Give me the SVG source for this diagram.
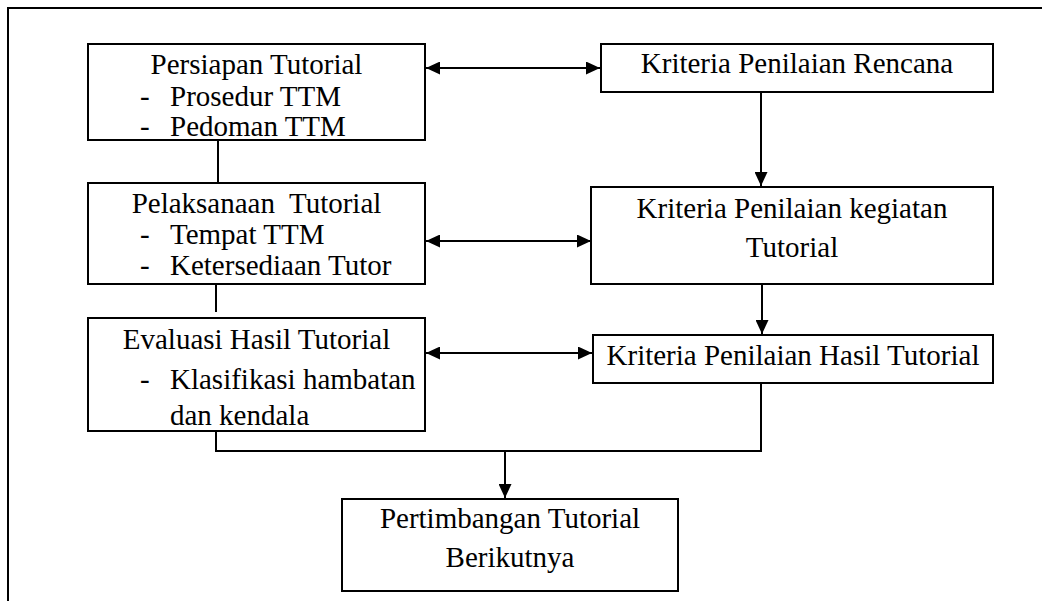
<svg xmlns="http://www.w3.org/2000/svg" width="1042" height="601" viewBox="0 0 1042 601">
<style>
.box{fill:#fff;stroke:#000;stroke-width:2}
.ln{fill:none;stroke:#000;stroke-width:2}
.t{font-family:"Liberation Serif","Times New Roman",serif;font-size:29px;fill:#000}
.c{text-anchor:middle}
</style>
<defs>
<marker id="ah" markerUnits="userSpaceOnUse" markerWidth="14" markerHeight="13" refX="14" refY="6.5" orient="auto-start-reverse">
<path d="M0,0 L14,6.5 L0,13 z" fill="#000"/>
</marker>
</defs>
<rect width="1042" height="601" fill="#fff"/>
<g id="frame">
<path class="ln" d="M8,601 V8 H1042"/>
</g>
<g id="connectors">
<line class="ln" x1="218" y1="140" x2="218" y2="183"/>
<line class="ln" x1="216" y1="284" x2="216" y2="312"/>
<line class="ln" x1="426" y1="68" x2="600" y2="68" marker-start="url(#ah)" marker-end="url(#ah)"/>
<line class="ln" x1="426" y1="241" x2="591" y2="241" marker-start="url(#ah)" marker-end="url(#ah)"/>
<line class="ln" x1="426" y1="353" x2="592" y2="353" marker-start="url(#ah)" marker-end="url(#ah)"/>
<line class="ln" x1="761" y1="92" x2="761" y2="186" marker-end="url(#ah)"/>
<line class="ln" x1="762" y1="284" x2="762" y2="334" marker-end="url(#ah)"/>
<path class="ln" d="M216,431 V451 H761 V383"/>
<line class="ln" x1="505" y1="451" x2="505" y2="498" marker-end="url(#ah)"/>
</g>
<g id="persiapan">
<rect class="box" x="88" y="44" width="337" height="96"/>
<text class="t c" x="256.5" y="74">Persiapan Tutorial</text>
<text class="t" x="140" y="106">-</text>
<text class="t" x="170" y="106">Prosedur TTM</text>
<text class="t" x="140" y="136">-</text>
<text class="t" x="170" y="136">Pedoman TTM</text>
</g>
<g id="pelaksanaan">
<rect class="box" x="88" y="183" width="337" height="101"/>
<text class="t c" x="256.5" y="213" xml:space="preserve">Pelaksanaan  Tutorial</text>
<text class="t" x="140" y="244">-</text>
<text class="t" x="170" y="244">Tempat TTM</text>
<text class="t" x="140" y="275">-</text>
<text class="t" x="170" y="275">Ketersediaan Tutor</text>
</g>
<g id="evaluasi">
<rect class="box" x="88" y="318" width="337" height="113"/>
<text class="t c" x="256.5" y="349">Evaluasi Hasil Tutorial</text>
<text class="t" x="140" y="389">-</text>
<text class="t" x="170" y="389">Klasifikasi hambatan</text>
<text class="t" x="170" y="425">dan kendala</text>
</g>
<g id="rencana">
<rect class="box" x="601" y="44" width="392" height="48"/>
<text class="t c" x="797" y="73">Kriteria Penilaian Rencana</text>
</g>
<g id="kegiatan">
<rect class="box" x="591" y="187" width="402" height="97"/>
<text class="t c" x="792" y="218">Kriteria Penilaian kegiatan</text>
<text class="t c" x="792" y="257">Tutorial</text>
</g>
<g id="hasil">
<rect class="box" x="593" y="335" width="400" height="48"/>
<text class="t c" x="793" y="365">Kriteria Penilaian Hasil Tutorial</text>
</g>
<g id="pertimbangan">
<rect class="box" x="342" y="499" width="336" height="92"/>
<text class="t c" x="510" y="528">Pertimbangan Tutorial</text>
<text class="t c" x="510" y="567">Berikutnya</text>
</g>
</svg>
